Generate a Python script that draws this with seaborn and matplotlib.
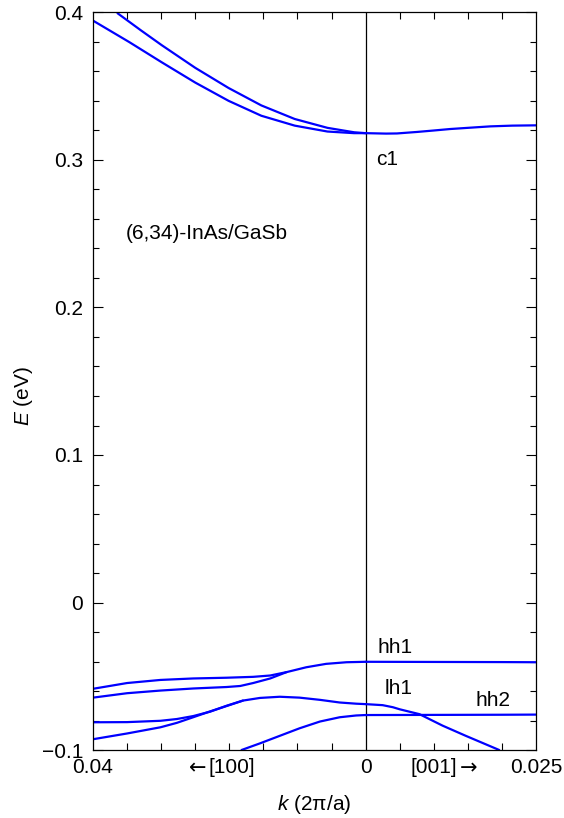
import numpy as np
import pandas as pd
import matplotlib
matplotlib.use("Agg")
import matplotlib.pyplot as plt
from matplotlib.ticker import MultipleLocator
import seaborn as sns

sns.set_style("ticks")
plt.rcParams["font.family"] = ["Liberation Sans", "DejaVu Sans"]
plt.rcParams["mathtext.fontset"] = "custom"
plt.rcParams["mathtext.it"] = "Liberation Sans:italic"
plt.rcParams["mathtext.rm"] = "Liberation Sans"
plt.rcParams["axes.unicode_minus"] = True
for key in ("text.color", "axes.labelcolor", "xtick.color", "ytick.color", "axes.edgecolor"):
    plt.rcParams[key] = "black"

# ---- subband dispersions, k in units of 2*pi/a, E in eV ----
# [100] direction (drawn to the left of k = 0)
c1a_k100 = [0.0364, 0.0330, 0.0299, 0.0250, 0.0201, 0.0153, 0.0104, 0.0056, 0.0017, 0.0]
c1a_E100 = [0.3995, 0.3880, 0.3778, 0.3625, 0.3488, 0.3370, 0.3278, 0.3218, 0.3188, 0.3182]

c1b_k100 = [0.0400, 0.0347, 0.0299, 0.0250, 0.0201, 0.0153, 0.0104, 0.0056, 0.0017, 0.0]
c1b_E100 = [0.3945, 0.3800, 0.3662, 0.3525, 0.3401, 0.3300, 0.3233, 0.3193, 0.3182, 0.3182]

hh1a_k100 = [0.0400, 0.0350, 0.0301, 0.0253, 0.0204, 0.0165, 0.0140, 0.0116, 0.0087, 0.0058, 0.0028, 0.0]
hh1a_E100 = [-0.0585, -0.0546, -0.0525, -0.0515, -0.0510, -0.0504, -0.0495, -0.0472, -0.0439, -0.0416, -0.0405, -0.0402]

hh1b_k100 = [0.0400, 0.0350, 0.0301, 0.0253, 0.0204, 0.0184, 0.0165, 0.0140, 0.0116]
hh1b_E100 = [-0.0645, -0.0615, -0.0597, -0.0583, -0.0573, -0.0566, -0.0546, -0.0515, -0.0472]

lh1a_k100 = [0.0400, 0.0350, 0.0301, 0.0277, 0.0253, 0.0228, 0.0204, 0.0180, 0.0155, 0.0126, 0.0097, 0.0067, 0.0038, 0.0014, 0.0]
lh1a_E100 = [-0.0812, -0.0811, -0.0802, -0.0790, -0.0770, -0.0740, -0.0700, -0.0665, -0.0647, -0.0639, -0.0645, -0.0660, -0.0678, -0.0686, -0.0689]

lh1b_k100 = [0.0400, 0.0350, 0.0301, 0.0277, 0.0253, 0.0228, 0.0204, 0.0180]
lh1b_E100 = [-0.0927, -0.0888, -0.0846, -0.0816, -0.0778, -0.0738, -0.0702, -0.0665]

hh2_k100 = [0.0182, 0.0155, 0.0126, 0.0097, 0.0067, 0.0038, 0.0014, 0.0]
hh2_E100 = [-0.1000, -0.0955, -0.0904, -0.0853, -0.0807, -0.0778, -0.0766, -0.0763]

# [001] direction (drawn to the right of k = 0)
c1_k001 = [0.0, 0.0030, 0.0046, 0.0075, 0.0100, 0.0124, 0.0150, 0.0183, 0.0215, 0.0250]
c1_E001 = [0.3182, 0.3179, 0.3180, 0.3190, 0.3200, 0.3210, 0.3218, 0.3228, 0.3233, 0.3235]

hh1_k001 = [0.0, 0.0100, 0.0200, 0.0250]
hh1_E001 = [-0.0402, -0.0403, -0.0404, -0.0405]

lh1_k001 = [0.0, 0.0025, 0.0040, 0.0050, 0.0079, 0.0113, 0.0147, 0.0196]
lh1_E001 = [-0.0689, -0.0696, -0.0710, -0.0724, -0.0757, -0.0835, -0.0904, -0.1000]

hh2_k001 = [0.0, 0.0100, 0.0200, 0.0250]
hh2_E001 = [-0.0763, -0.0762, -0.0761, -0.0760]

tick_pos = [-0.04, -0.0197, 0.0, 0.00995, 0.025]
tick_txt = ["0.04", "[100]", "0", "[001]", "0.025"]
arrow_pos = [-0.0247, 0.0151]
arrow_txt = ["\u2190", "\u2192"]
ytick_pos = [-0.1, 0.0, 0.1, 0.2, 0.3, 0.4]
ytick_txt = ["\u22120.1", "0", "0.1", "0.2", "0.3", "0.4"]

branches_100 = {
    "c1a": (c1a_k100, c1a_E100), "c1b": (c1b_k100, c1b_E100),
    "hh1a": (hh1a_k100, hh1a_E100), "hh1b": (hh1b_k100, hh1b_E100),
    "lh1a": (lh1a_k100, lh1a_E100), "lh1b": (lh1b_k100, lh1b_E100),
    "hh2": (hh2_k100, hh2_E100),
}
branches_001 = {
    "c1": (c1_k001, c1_E001), "hh1": (hh1_k001, hh1_E001),
    "lh1": (lh1_k001, lh1_E001), "hh2": (hh2_k001, hh2_E001),
}

frames = []
for name, (k, e) in branches_100.items():
    frames.append(pd.DataFrame({"x": -np.asarray(k), "E": e, "branch": name + "_100"}))
for name, (k, e) in branches_001.items():
    frames.append(pd.DataFrame({"x": np.asarray(k), "E": e, "branch": name + "_001"}))
df = pd.concat(frames, ignore_index=True)

W, H = 564, 818
fig = plt.figure(figsize=(W / 100, H / 100), dpi=100)
ax = fig.add_axes([93 / W, 1 - 750 / H, 443 / W, 737.5 / H])

sns.lineplot(data=df, x="x", y="E", units="branch", estimator=None, sort=False,
             color="#0000ff", lw=1.6, ax=ax, legend=False)
ax.axvline(0, color="black", lw=0.9, zorder=1)

ax.set_xlim(-0.04, 0.025)
ax.set_ylim(-0.1, 0.4)

ax.set_xticks(tick_pos, tick_txt)
ax.xaxis.set_minor_locator(MultipleLocator(0.005))
ax.tick_params(axis="x", which="major", direction="in", length=0, pad=6, labelsize=15)
ax.tick_params(axis="x", which="minor", direction="in", length=5, width=0.8,
               top=True, bottom=True)

# direction arrows beside the [100] / [001] labels
for xa, s in zip(arrow_pos, arrow_txt):
    ax.annotate(s, xy=(xa, 0), xycoords=("data", "axes fraction"),
                xytext=(0, -17.3), textcoords="offset points",
                ha="center", va="baseline", fontsize=15, family=["DejaVu Sans"],
                annotation_clip=False)

ax.set_yticks(ytick_pos, ytick_txt)
ax.yaxis.set_minor_locator(MultipleLocator(0.02))
ax.tick_params(axis="y", which="major", direction="in", length=7, width=0.8,
               left=True, right=True, labelsize=15, pad=7)
ax.tick_params(axis="y", which="minor", direction="in", length=4, width=0.8,
               left=True, right=True)

for s in ax.spines.values():
    s.set_color("black")
    s.set_linewidth(0.9)

ax.set_xlabel("$k$ (2\u03c0/a)", fontsize=15, labelpad=11)
ax.set_ylabel("$E$ (eV)", fontsize=15)
ax.yaxis.set_label_coords(-0.132, 0.48)

fs = 15
ax.text(0.0016, 0.3003, "c1", fontsize=fs, va="center", ha="left")
ax.text(-0.0352, 0.2502, "(6,34)-InAs/GaSb", fontsize=fs, va="center", ha="left")
ax.text(0.0017, -0.0305, "hh1", fontsize=fs, va="center", ha="left")
ax.text(0.0028, -0.0585, "lh1", fontsize=fs, va="center", ha="left")
ax.text(0.0161, -0.0666, "hh2", fontsize=fs, va="center", ha="left")

fig.savefig("out.png", dpi=100)
